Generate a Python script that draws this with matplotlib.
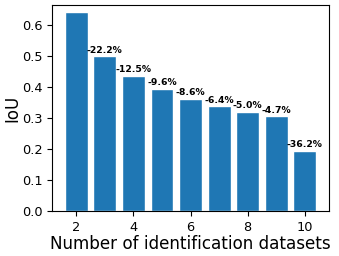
import matplotlib
matplotlib.use("Agg")
import matplotlib.pyplot as plt

datasets = [2, 3, 4, 5, 6, 7, 8, 9, 10]
iou = [0.640, 0.498, 0.436, 0.394, 0.360, 0.337, 0.320, 0.305, 0.195]
drops = ["-22.2%", "-12.5%", "-9.6%", "-8.6%", "-6.4%", "-5.0%", "-4.7%", "-36.2%"]

fig, ax = plt.subplots(figsize=(3.39, 2.56), dpi=100)
bars = ax.bar(datasets, iou, color="#1f77b4", edgecolor="white", linewidth=1)

for x, y, txt in zip(datasets[1:], iou[1:], drops):
    ax.text(x, y + 0.006, txt, ha="center", va="bottom", fontsize=6.7, fontweight="bold")

ax.set_ylim(0, 0.663)
ax.set_yticks([0.0, 0.1, 0.2, 0.3, 0.4, 0.5, 0.6])
ax.set_xticks([2, 4, 6, 8, 10])
ax.tick_params(labelsize=9.3)
ax.set_xlabel("Number of identification datasets", fontsize=12.1, labelpad=1)
ax.set_ylabel("IoU", fontsize=12)
ax.yaxis.set_label_coords(-0.11, 0.5)

fig.subplots_adjust(left=0.154, right=0.97, top=0.98, bottom=0.175)
fig.savefig("out.png")
plt.close()
